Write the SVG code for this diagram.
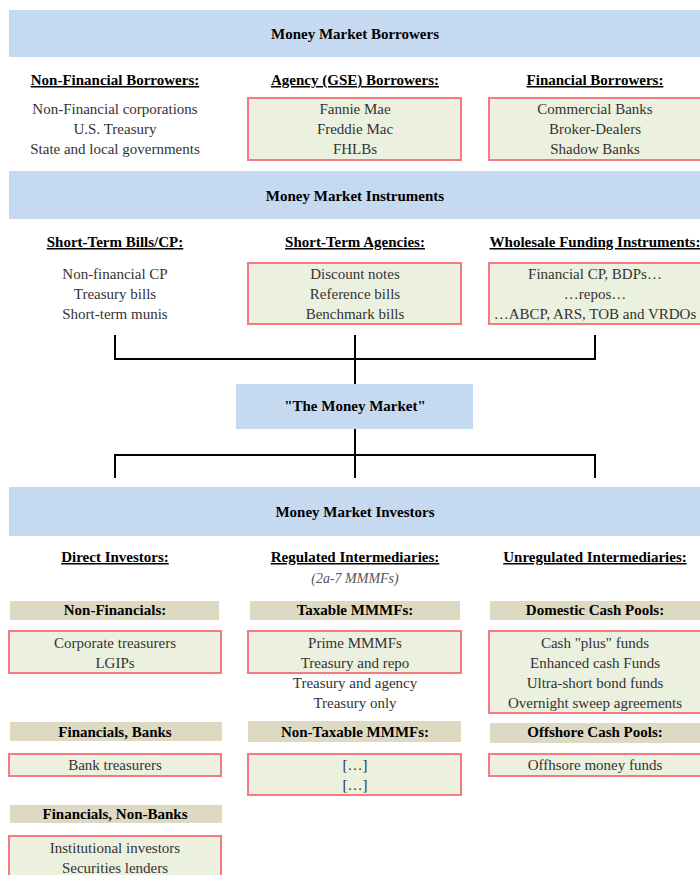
<svg xmlns="http://www.w3.org/2000/svg" width="700" height="875" viewBox="0 0 700 875">
<style>
  text { font-family: "Liberation Serif", "Times New Roman", serif; font-size: 15px; text-anchor: middle; }
  .band { fill: #c5d9f1; }
  .title { font-weight: bold; fill: #000; }
  .hdr { font-weight: bold; fill: #000; text-decoration: underline; }
  .body { fill: #333; }
  .note { font-style: italic; fill: #555; font-size: 14px; }
  .box { fill: #ebf1de; stroke: #f47a7d; stroke-width: 2; }
  .beige { fill: #ddd9c3; }
  .conn { stroke: #000; stroke-width: 2; fill: none; }
</style>

<!-- Bands -->
<g id="band-borrowers">
  <rect class="band" x="9" y="10" width="691" height="47"/>
  <text class="title" x="355" y="39">Money Market Borrowers</text>
</g>
<g id="band-instruments">
  <rect class="band" x="9" y="171" width="691" height="48"/>
  <text class="title" x="355" y="201">Money Market Instruments</text>
</g>
<g id="money-market">
  <rect class="band" x="236" y="384" width="237" height="45"/>
  <text class="title" x="355" y="411">"The Money Market"</text>
</g>
<g id="band-investors">
  <rect class="band" x="9" y="487" width="691" height="49"/>
  <text class="title" x="355" y="517">Money Market Investors</text>
</g>

<!-- Borrowers -->
<g id="non-financial-borrowers">
  <text class="hdr" x="115" y="85">Non-Financial Borrowers:</text>
  <text class="body" x="115" y="114">Non-Financial corporations</text>
  <text class="body" x="115" y="134">U.S. Treasury</text>
  <text class="body" x="115" y="154">State and local governments</text>
</g>
<g id="agency-borrowers">
  <text class="hdr" x="355" y="85">Agency (GSE) Borrowers:</text>
  <rect class="box" x="248" y="98" width="213" height="62"/>
  <text class="body" x="355" y="114">Fannie Mae</text>
  <text class="body" x="355" y="134">Freddie Mac</text>
  <text class="body" x="355" y="154">FHLBs</text>
</g>
<g id="financial-borrowers">
  <text class="hdr" x="595" y="85">Financial Borrowers:</text>
  <rect class="box" x="489" y="98" width="215" height="62"/>
  <text class="body" x="595" y="114">Commercial Banks</text>
  <text class="body" x="595" y="134">Broker-Dealers</text>
  <text class="body" x="595" y="154">Shadow Banks</text>
</g>

<!-- Instruments -->
<g id="short-term-bills">
  <text class="hdr" x="115" y="247">Short-Term Bills/CP:</text>
  <text class="body" x="115" y="279">Non-financial CP</text>
  <text class="body" x="115" y="299">Treasury bills</text>
  <text class="body" x="115" y="319">Short-term munis</text>
</g>
<g id="short-term-agencies">
  <text class="hdr" x="355" y="247">Short-Term Agencies:</text>
  <rect class="box" x="248" y="263" width="213" height="61"/>
  <text class="body" x="355" y="279">Discount notes</text>
  <text class="body" x="355" y="299">Reference bills</text>
  <text class="body" x="355" y="319">Benchmark bills</text>
</g>
<g id="wholesale-funding">
  <text class="hdr" x="595" y="247">Wholesale Funding Instruments:</text>
  <rect class="box" x="489" y="263" width="215" height="61"/>
  <text class="body" x="595" y="279">Financial CP, BDPs…</text>
  <text class="body" x="595" y="299">…repos…</text>
  <text class="body" x="595" y="319">…ABCP, ARS, TOB and VRDOs</text>
</g>

<!-- Investors column headers -->
<g id="direct-investors">
  <text class="hdr" x="115" y="562">Direct Investors:</text>
</g>
<g id="regulated-intermediaries">
  <text class="hdr" x="355" y="562">Regulated Intermediaries:</text>
  <text class="note" x="355" y="583">(2a-7 MMMFs)</text>
</g>
<g id="unregulated-intermediaries">
  <text class="hdr" x="595" y="562">Unregulated Intermediaries:</text>
</g>

<!-- Direct investors -->
<g id="non-financials">
  <rect class="beige" x="10" y="601" width="209" height="19"/>
  <text class="title" x="115" y="615">Non-Financials:</text>
  <rect class="box" x="9" y="631" width="212" height="42"/>
  <text class="body" x="115" y="648">Corporate treasurers</text>
  <text class="body" x="115" y="668">LGIPs</text>
</g>
<g id="financials-banks">
  <rect class="beige" x="10" y="722" width="212" height="19"/>
  <text class="title" x="115" y="737">Financials, Banks</text>
  <rect class="box" x="9" y="754" width="212" height="22"/>
  <text class="body" x="115" y="770">Bank treasurers</text>
</g>
<g id="financials-non-banks">
  <rect class="beige" x="10" y="805" width="212" height="18"/>
  <text class="title" x="115" y="819">Financials, Non-Banks</text>
  <rect class="box" x="9" y="836" width="212" height="50"/>
  <text class="body" x="115" y="853">Institutional investors</text>
  <text class="body" x="115" y="873">Securities lenders</text>
</g>

<!-- Regulated intermediaries -->
<g id="taxable-mmmfs">
  <rect class="beige" x="250" y="601" width="210" height="19"/>
  <text class="title" x="355" y="615">Taxable MMMFs:</text>
  <rect class="box" x="248" y="631" width="213" height="42"/>
  <text class="body" x="355" y="648">Prime MMMFs</text>
  <text class="body" x="355" y="668">Treasury and repo</text>
  <text class="body" x="355" y="688">Treasury and agency</text>
  <text class="body" x="355" y="708">Treasury only</text>
</g>
<g id="non-taxable-mmmfs">
  <rect class="beige" x="248" y="721" width="213" height="21"/>
  <text class="title" x="355" y="737">Non-Taxable MMMFs:</text>
  <rect class="box" x="248" y="754" width="213" height="41"/>
  <text class="body" x="355" y="770">[…]</text>
  <text class="body" x="355" y="790">[…]</text>
</g>

<!-- Unregulated intermediaries -->
<g id="domestic-cash-pools">
  <rect class="beige" x="490" y="601" width="210" height="19"/>
  <text class="title" x="595" y="615">Domestic Cash Pools:</text>
  <rect class="box" x="489" y="631" width="215" height="82"/>
  <text class="body" x="595" y="648">Cash "plus" funds</text>
  <text class="body" x="595" y="668">Enhanced cash Funds</text>
  <text class="body" x="595" y="688">Ultra-short bond funds</text>
  <text class="body" x="595" y="708">Overnight sweep agreements</text>
</g>
<g id="offshore-cash-pools">
  <rect class="beige" x="490" y="723" width="210" height="20"/>
  <text class="title" x="595" y="737">Offshore Cash Pools:</text>
  <rect class="box" x="489" y="754" width="215" height="22"/>
  <text class="body" x="595" y="770">Offhsore money funds</text>
</g>

<!-- Connectors -->
<g id="connectors">
  <path class="conn" d="M115,335 V359 H595 V335 M355,335 V384"/>
  <path class="conn" d="M355,429 V455 M115,478 V455 H595 V478 M355,455 V478"/>
</g>
</svg>
